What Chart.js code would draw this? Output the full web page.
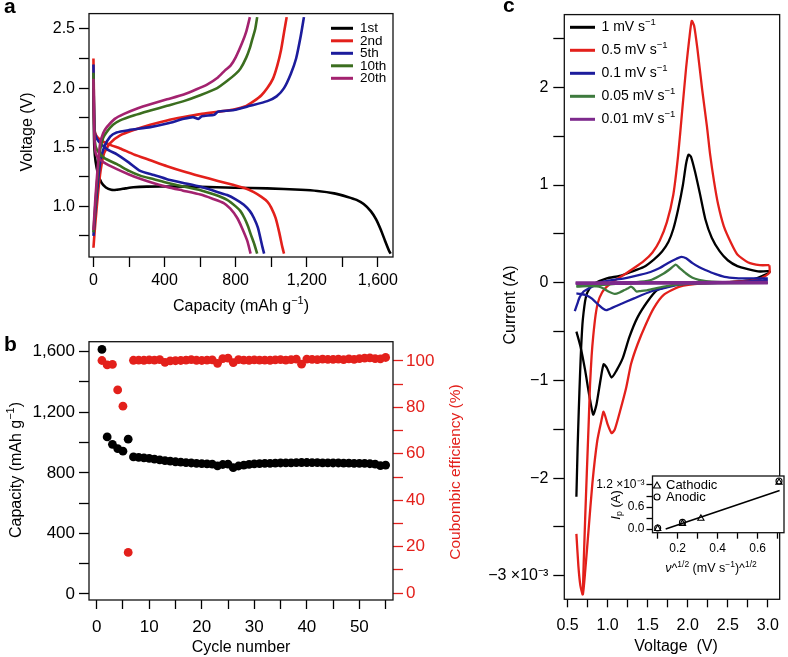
<!DOCTYPE html>
<html>
<head>
<meta charset="utf-8">
<script src="https://cdn.jsdelivr.net/npm/chart.js@4.4.1/dist/chart.umd.min.js"></script>
<style>
html, body { margin: 0; padding: 0; background: #fff; }
#wrap { position: relative; width: 788px; height: 657px; overflow: hidden; }
#wrap canvas { position: absolute; left: 0; top: 0; }
</style>
</head>
<body>
<div id="wrap">
  <canvas id="chartA" width="788" height="657"></canvas>
  <canvas id="chartB" width="788" height="657"></canvas>
  <canvas id="chartC" width="788" height="657"></canvas>
  <canvas id="chartInset" width="788" height="657"></canvas>
</div>
<script>
// ---- panel a : galvanostatic curves, [capacity mAh/g, voltage V]
const cycleNames = ['1st', '2nd', '5th', '10th', '20th'];
const dis1st = [[0,2.0],[2,1.7],[5,1.5],[12,1.38],[25,1.28],[45,1.2],[70,1.16],[100,1.14],[130,1.14],[180,1.152],[225,1.162],[300,1.167],[450,1.168],[600,1.165],[790,1.158],[977,1.152],[1166,1.14],[1260,1.13],[1354,1.11],[1430,1.08],[1480,1.055],[1520,1.02],[1560,0.96],[1590,0.89],[1617,0.8],[1640,0.71],[1664,0.62],[1672,0.6]];
const dis2nd = [[0,2.25],[3,1.9],[6,1.65],[15,1.6],[40,1.56],[94,1.52],[150,1.49],[226,1.44],[320,1.39],[414,1.34],[508,1.295],[602,1.255],[700,1.215],[790,1.18],[850,1.155],[902,1.12],[945,1.08],[978,1.04],[1000,0.99],[1025,0.9],[1045,0.78],[1062,0.66],[1072,0.6]];
const chg2nd = [[0,0.65],[10,0.85],[25,1.1],[40,1.3],[60,1.45],[94,1.535],[150,1.6],[226,1.645],[320,1.69],[414,1.727],[508,1.755],[602,1.78],[700,1.8],[790,1.82],[860,1.85],[902,1.89],[945,1.94],[978,2.0],[1010,2.08],[1034,2.19],[1055,2.32],[1072,2.47],[1087,2.6]];
const dis5th = [[0,2.2],[3,1.85],[8,1.62],[20,1.57],[38,1.535],[80,1.48],[132,1.44],[200,1.37],[263,1.3],[340,1.265],[414,1.23],[500,1.2],[602,1.165],[680,1.13],[752,1.096],[800,1.06],[846,1.014],[880,0.96],[902,0.904],[925,0.82],[950,0.66],[960,0.6]];
const chg5th = [[0,0.75],[10,0.95],[25,1.2],[38,1.37],[60,1.5],[94,1.59],[130,1.625],[200,1.645],[320,1.67],[414,1.7],[508,1.74],[560,1.755],[590,1.74],[610,1.762],[680,1.775],[700,1.8],[790,1.815],[880,1.85],[978,1.89],[1030,1.93],[1072,2.0],[1110,2.12],[1140,2.25],[1166,2.44],[1184,2.6]];
const dis10th = [[0,2.13],[3,1.8],[8,1.55],[19,1.48],[60,1.41],[132,1.357],[200,1.3],[263,1.26],[340,1.23],[414,1.2],[500,1.17],[602,1.137],[680,1.1],[752,1.055],[800,1.0],[827,0.96],[850,0.9],[870,0.83],[884,0.767],[905,0.68],[921,0.6]];
const chg10th = [[0,0.78],[10,1.0],[25,1.3],[38,1.48],[55,1.58],[75,1.63],[110,1.69],[150,1.727],[230,1.77],[320,1.81],[414,1.85],[508,1.89],[600,1.94],[696,2.0],[760,2.07],[800,2.12],[827,2.165],[860,2.26],[880,2.34],[893,2.41],[910,2.5],[921,2.6]];
const dis20th = [[0,2.08],[3,1.75],[8,1.5],[19,1.425],[60,1.37],[132,1.315],[200,1.27],[263,1.233],[340,1.195],[414,1.165],[500,1.135],[602,1.1],[670,1.065],[733,1.028],[770,0.98],[808,0.904],[835,0.82],[865,0.71],[884,0.6]];
const chg20th = [[0,0.8],[10,1.05],[25,1.35],[38,1.535],[55,1.62],[75,1.67],[120,1.74],[169,1.78],[250,1.83],[320,1.864],[414,1.905],[508,1.946],[580,1.99],[639,2.03],[700,2.09],[740,2.15],[771,2.19],[800,2.26],[837,2.385],[860,2.48],[880,2.6]];
const capTicks = [0,200,400,600,800,1000,1200,1400,1600];
const capLabels = ['0','','400','','800','','1,200','','1,600'];
const voltTicks = [0.75,1.0,1.25,1.5,1.75,2.0,2.25,2.5];
const voltLabels = ['','1.0','','1.5','','2.0','','2.5'];

// ---- panel b : cycling
const cycleNumber = [1,2,3,4,5,6,7,8,9,10,11,12,13,14,15,16,17,18,19,20,21,22,23,24,25,26,27,28,29,30,31,32,33,34,35,36,37,38,39,40,41,42,43,44,45,46,47,48,49,50,51,52,53,54,55];
const capacityB = [1615,1037,988,960,943,1022,905,902,899,895,890,886,881,877,873,870,867,865,863,861,859,857,846,855,858,834,845,851,856,859,861,862,863,864,865,866,866,867,868,868,867,867,866,866,865,865,864,864,863,863,862,860,858,847,851];
const coulombicEff = [100.2,98.3,98.5,87.5,80.5,17.5,100.3,100.4,100.3,100.5,100.4,100.6,99.4,100.0,100.1,100.2,100.4,100.6,100.3,100.2,100.4,100.5,99.0,101.0,101.2,99.3,100.6,100.4,100.3,100.5,100.4,100.4,100.3,100.5,100.6,100.4,100.6,100.8,98.6,100.8,100.7,100.6,100.8,100.7,100.7,100.8,100.6,100.9,100.7,101.0,101.2,101.3,101.0,100.9,101.5];
const cycTicks = [0,5,10,15,20,25,30,35,40,45,50,55];
const cycLabels = ['0','','10','','20','','30','','40','','50',''];
const capBTicks = [0,200,400,600,800,1000,1200,1400,1600];
const capBLabels = ['0','','400','','800','','1,200','','1,600'];
const effTicks = [0,10,20,30,40,50,60,70,80,90,100];
const effLabels = ['0','','20','','40','','60','','80','','100'];

// ---- panel c : cyclic voltammetry, [voltage V, current 1e-3 A]
const scanRates = ['1', '0.5', '0.1', '0.05', '0.01'];
const cv1Cathodic = [[3.03,0.12],[3.0,0.094],[2.79,0.03],[2.38,0.0],[1.98,-0.007],[1.82,-0.024],[1.62,-0.075],[1.5,-0.19],[1.37,-0.36],[1.27,-0.56],[1.19,-0.77],[1.11,-0.9],[1.05,-0.97],[0.99,-0.87],[0.95,-0.835],[0.91,-1.0],[0.86,-1.25],[0.82,-1.35],[0.77,-1.15],[0.72,-0.9],[0.66,-0.65],[0.61,-0.5]];
const cv1Anodic = [[0.61,-2.19],[0.625,-1.7],[0.64,-1.3],[0.655,-0.95],[0.67,-0.65],[0.69,-0.38],[0.73,-0.14],[0.78,-0.05],[0.83,-0.01],[0.99,0.044],[1.15,0.07],[1.29,0.11],[1.45,0.16],[1.58,0.24],[1.68,0.32],[1.76,0.42],[1.82,0.55],[1.88,0.75],[1.94,1.0],[1.98,1.22],[2.01,1.31],[2.04,1.29],[2.09,1.14],[2.15,0.92],[2.22,0.65],[2.3,0.46],[2.4,0.32],[2.5,0.23],[2.62,0.17],[2.75,0.14],[2.9,0.115],[3.03,0.12]];
const cv05Cathodic = [[3.02,0.18],[3.02,0.1],[2.9,0.04],[2.6,0.01],[2.18,-0.007],[1.9,-0.04],[1.7,-0.125],[1.576,-0.26],[1.475,-0.43],[1.374,-0.63],[1.293,-0.83],[1.233,-1.07],[1.16,-1.3],[1.09,-1.5],[1.05,-1.54],[1.0,-1.45],[0.95,-1.32],[0.92,-1.42],[0.87,-1.62],[0.81,-2.05],[0.76,-2.55],[0.72,-2.95],[0.69,-3.19],[0.66,-3.1],[0.635,-2.9],[0.61,-2.57]];
const cv05Anodic = [[0.69,-3.19],[0.7,-2.9],[0.72,-2.4],[0.74,-1.95],[0.765,-1.4],[0.78,-1.05],[0.8,-0.75],[0.82,-0.55],[0.85,-0.33],[0.88,-0.2],[0.93,-0.1],[0.99,-0.04],[1.1,0.03],[1.21,0.085],[1.33,0.15],[1.45,0.22],[1.56,0.31],[1.65,0.43],[1.74,0.62],[1.82,0.9],[1.88,1.3],[1.93,1.75],[1.98,2.2],[2.02,2.5],[2.05,2.68],[2.08,2.63],[2.12,2.4],[2.18,1.98],[2.24,1.6],[2.28,1.31],[2.33,1.03],[2.38,0.8],[2.45,0.58],[2.54,0.41],[2.62,0.29],[2.75,0.21],[2.9,0.18],[3.02,0.18]];
const cv01Cathodic = [[3.0,0.03],[2.6,0.005],[2.2,-0.005],[1.9,-0.02],[1.78,-0.04],[1.54,-0.09],[1.33,-0.16],[1.13,-0.23],[0.99,-0.28],[0.95,-0.27],[0.89,-0.23],[0.8,-0.16],[0.72,-0.125],[0.66,-0.115],[0.61,-0.11]];
const cv01Anodic = [[0.59,-0.29],[0.62,-0.22],[0.65,-0.15],[0.7,-0.09],[0.76,-0.06],[0.83,-0.03],[0.89,0.0],[1.0,0.02],[1.21,0.044],[1.4,0.08],[1.535,0.11],[1.65,0.15],[1.75,0.2],[1.86,0.246],[1.92,0.265],[1.98,0.25],[2.06,0.2],[2.14,0.16],[2.22,0.13],[2.34,0.09],[2.46,0.06],[2.6,0.048],[2.8,0.044],[3.0,0.045]];
const cv005Cathodic = [[3.0,-0.002],[2.2,-0.007],[1.94,-0.015],[1.7,-0.04],[1.5,-0.075],[1.41,-0.085],[1.36,-0.09],[1.32,-0.055],[1.29,-0.04],[1.25,-0.06],[1.21,-0.075],[1.15,-0.1],[1.09,-0.115],[1.01,-0.09],[0.95,-0.06],[0.89,-0.04],[0.75,-0.035],[0.61,-0.04]];
const cv005Anodic = [[0.61,-0.035],[0.8,-0.03],[1.0,-0.02],[1.2,-0.005],[1.41,0.01],[1.55,0.03],[1.7,0.094],[1.78,0.14],[1.85,0.185],[1.9,0.15],[1.98,0.094],[2.06,0.05],[2.14,0.03],[2.3,0.01],[2.6,0.0],[3.0,0.0]];
const cv001Cathodic = [[3.0,-0.004],[2.0,-0.006],[1.2,-0.008],[0.6,-0.01]];
const cv001Anodic = [[0.6,0.0],[1.2,0.002],[2.0,0.004],[3.0,0.005]];
const cvVoltTicks = [0.5,0.75,1.0,1.25,1.5,1.75,2.0,2.25,2.5,2.75,3.0];
const cvVoltLabels = ['0.5','','1.0','','1.5','','2.0','','2.5','','3.0'];
const currentTicks = [-3,-2.5,-2,-1.5,-1,-0.5,0,0.5,1,1.5,2,2.5];
const currentLabels = ['\u22123 \u00d710\u207b\u00b3','','\u22122','','\u22121','','0','','1','','2',''];

// ---- inset : peak current vs sqrt(scan rate)
const sqrtRateCathodic = [0.1, 0.224, 0.316, 0.707];
const ipCathodic = [0.01, 0.15, 0.29, 1.27];
const sqrtRateAnodic = [0.1, 0.224, 0.707];
const ipAnodic = [0.03, 0.18, 1.31];
const fitX = [0.14, 0.71];
const fitY = [0.0, 1.05];
const insetXTicks = [0.1,0.2,0.3,0.4,0.5,0.6,0.7];
const insetXLabels = ['','0.2','','0.4','','0.6',''];
const insetYTicks = [0.0,0.3,0.6,0.9,1.2];
const insetYLabels = ['0.0','','0.6','','1.2 \u00d710\u207b\u00b3'];

// ---- styles
const FONT = '"Liberation Sans", Arial, Helvetica, sans-serif';
const cycleColors = ['#000000', '#e3201b', '#1c1c9c', '#3b6e1f', '#a3226f'];
const cvColors = ['#000000', '#e3201b', '#1c1c9c', '#3e7a3e', '#7d2a8c'];
const W = 788, H = 657;

Chart.defaults.font.family = FONT;
Chart.defaults.color = '#000';

const pts = arr => arr.map(([x, y]) => ({ x, y }));

function axis(o) {
    return {
        type: 'linear',
        position: o.position,
        min: o.min, max: o.max,
        afterBuildTicks: s => { s.ticks = o.values.map(v => ({ value: v })); },
        afterFit: s => { if (o.position === 'bottom') s.height = o.size; else s.width = o.size; },
        ticks: {
            autoSkip: false, maxRotation: 0, minRotation: 0,
            padding: o.pad !== undefined ? o.pad : 3,
            color: o.color || '#000',
            font: { size: o.font, family: FONT },
            callback: (v, i) => o.labels[i]
        },
        grid: { display: true, drawOnChartArea: false, drawTicks: true, tickLength: o.tick || 9, tickWidth: 1.3, tickColor: o.color || '#000', color: o.color || '#000' },
        border: { display: false },
        title: { display: false }
    };
}

// rich text: strings, or {t, sup, sub, italic}
function drawRich(ctx, parts, x, y, o) {
    const size = o.size;
    ctx.save();
    ctx.translate(x, y);
    if (o.rotate) ctx.rotate(o.rotate);
    ctx.fillStyle = o.color || '#000';
    ctx.textBaseline = 'middle';
    ctx.textAlign = 'left';
    let w = 0;
    const segs = parts.map(p => {
        const s = typeof p === 'string' ? { t: p } : p;
        const fs = (s.sup || s.sub) ? size * 0.68 : size;
        const f = `${s.italic ? 'italic ' : ''}${o.bold ? 'bold ' : ''}${fs}px ${FONT}`;
        ctx.font = f;
        const sw = ctx.measureText(s.t).width;
        w += sw;
        return { ...s, f, sw };
    });
    let cx = o.align === 'left' ? 0 : -w / 2;
    segs.forEach(s => {
        ctx.font = s.f;
        const dy = s.sup ? -size * 0.36 : (s.sub ? size * 0.3 : 0);
        ctx.fillText(s.t, cx, dy);
        cx += s.sw;
    });
    ctx.restore();
}

function frame(ctx, a) {
    ctx.save();
    ctx.strokeStyle = '#111';
    ctx.lineWidth = 1.3;
    ctx.strokeRect(a.left, a.top, a.right - a.left, a.bottom - a.top);
    ctx.restore();
}

function hline(ctx, x1, x2, y, color, w) {
    ctx.save();
    ctx.strokeStyle = color; ctx.lineWidth = w;
    ctx.beginPath(); ctx.moveTo(x1, y); ctx.lineTo(x2, y); ctx.stroke();
    ctx.restore();
}

function baseOptions(area, scales) {
    return {
        responsive: false, animation: false, devicePixelRatio: 1, events: [],
        layout: {
            autoPadding: false,
            padding: { left: area.l - area.yw, top: area.t, right: W - area.r - (area.y1w || 0), bottom: H - area.b - area.xh }
        },
        plugins: { legend: { display: false }, tooltip: { enabled: false } },
        scales
    };
}

// ================= panel a
const aSeries = [
    [dis1st],
    [dis2nd, chg2nd],
    [dis5th, chg5th],
    [dis10th, chg10th],
    [dis20th, chg20th]
];
const aDatasets = [];
aSeries.forEach((curves, i) => {
    curves.forEach(c => aDatasets.push({
        data: pts(c), showLine: true, borderColor: cycleColors[i], borderWidth: 2.6,
        pointRadius: 0, tension: 0.2, order: 10 - i
    }));
});

const decorA = {
    id: 'decorA',
    afterDraw(chart) {
        const ctx = chart.ctx;
        frame(ctx, chart.chartArea);
        drawRich(ctx, ['a'], 4, 7, { size: 21, bold: true, align: 'left' });
        drawRich(ctx, ['Voltage (V)'], 28, 132, { size: 16, rotate: -Math.PI / 2 });
        drawRich(ctx, ['Capacity (mAh g', { t: '\u22121', sup: true }, ')'], 241, 307, { size: 16 });
        cycleNames.forEach((name, i) => {
            const y = 28.3 + i * 12.5;
            hline(ctx, 331, 353, y, cycleColors[i], 3);
            drawRich(ctx, [name], 360, y, { size: 13.5, align: 'left' });
        });
    }
};

new Chart(document.getElementById('chartA'), {
    type: 'scatter',
    data: { datasets: aDatasets },
    options: baseOptions({ l: 89, t: 7, r: 393, b: 257, yw: 89, xh: 40 }, {
        x: axis({ position: 'bottom', min: -25, max: 1685, values: capTicks, labels: capLabels, size: 40, font: 16, tick: 10, pad: 4 }),
        y: axis({ position: 'left', min: 0.572, max: 2.63, values: voltTicks, labels: voltLabels, size: 89, font: 16, tick: 10, pad: 4 })
    }),
    plugins: [decorA]
});

// ================= panel b
const decorB = {
    id: 'decorB',
    afterDraw(chart) {
        const ctx = chart.ctx;
        frame(ctx, chart.chartArea);
        drawRich(ctx, ['b'], 4, 345, { size: 21, bold: true, align: 'left' });
        drawRich(ctx, ['Capacity (mAh g', { t: '\u22121', sup: true }, ')'], 17, 470, { size: 16, rotate: -Math.PI / 2 });
        drawRich(ctx, ['Coubombic efficiency (%)'], 456, 472, { size: 15.5, rotate: -Math.PI / 2, color: '#e3201b' });
        drawRich(ctx, ['Cycle number'], 241, 648, { size: 16 });
    }
};

new Chart(document.getElementById('chartB'), {
    type: 'scatter',
    data: {
        datasets: [
            { data: cycleNumber.map((c, i) => ({ x: c, y: capacityB[i] })), yAxisID: 'y', pointRadius: 4.4, pointBackgroundColor: '#000', pointBorderWidth: 0 },
            { data: cycleNumber.map((c, i) => ({ x: c, y: coulombicEff[i] })), yAxisID: 'y1', pointRadius: 4.4, pointBackgroundColor: '#e3201b', pointBorderWidth: 0 }
        ]
    },
    options: baseOptions({ l: 89, t: 341.7, r: 393, b: 600, yw: 89, y1w: 60, xh: 40 }, {
        x: axis({ position: 'bottom', min: -1.46, max: 56.4, values: cycTicks, labels: cycLabels, size: 40, font: 17, tick: 9, pad: 8 }),
        y: axis({ position: 'left', min: -40, max: 1666, values: capBTicks, labels: capBLabels, size: 89, font: 17, tick: 10, pad: 4 }),
        y1: axis({ position: 'right', min: -3, max: 108.3, values: effTicks, labels: effLabels, size: 60, font: 17, tick: 10, pad: 3, color: '#e3201b' })
    }),
    plugins: [decorB]
});

// ================= panel c
const cvSeries = [
    [cv1Cathodic, cv1Anodic],
    [cv05Cathodic, cv05Anodic],
    [cv01Cathodic, cv01Anodic],
    [cv005Cathodic, cv005Anodic],
    [cv001Cathodic, cv001Anodic]
];
const cDatasets = [];
cvSeries.forEach((curves, i) => {
    curves.forEach(c => cDatasets.push({
        data: pts(c), showLine: true, borderColor: cvColors[i], borderWidth: i === 4 ? 2.8 : 2.3,
        pointRadius: 0, tension: 0.2, order: 10 - i
    }));
});

const decorC = {
    id: 'decorC',
    afterDraw(chart) {
        const ctx = chart.ctx;
        frame(ctx, chart.chartArea);
        drawRich(ctx, ['c'], 503, 6, { size: 21, bold: true, align: 'left' });
        drawRich(ctx, ['Current (A)'], 511, 305, { size: 16, rotate: -Math.PI / 2 });
        drawRich(ctx, ['Voltage  (V)'], 676, 647, { size: 16 });
        scanRates.forEach((r, i) => {
            const y = 27.3 + i * 23;
            hline(ctx, 570, 595, y, cvColors[i], 3);
            drawRich(ctx, [r + ' mV s', { t: '\u22121', sup: true }], 601.5, y, { size: 14, align: 'left' });
        });
    }
};

new Chart(document.getElementById('chartC'), {
    type: 'scatter',
    data: { datasets: cDatasets },
    options: baseOptions({ l: 564.3, t: 8.3, r: 786.7, b: 599.3, yw: 80, xh: 40 }, {
        x: axis({ position: 'bottom', min: 0.459, max: 3.148, values: cvVoltTicks, labels: cvVoltLabels, size: 40, font: 16, tick: 8, pad: 9 }),
        y: axis({ position: 'left', min: -3.24, max: 2.744, values: currentTicks, labels: currentLabels, size: 80, font: 16, tick: 11, pad: 5 })
    }),
    plugins: [decorC]
});

// ================= inset
const decorInset = {
    id: 'decorInset',
    beforeDatasetsDraw(chart) {
        const a = chart.chartArea, ctx = chart.ctx;
        ctx.save();
        ctx.fillStyle = '#fff';
        ctx.fillRect(a.left, a.top, a.right - a.left, a.bottom - a.top);
        ctx.restore();
    },
    afterDraw(chart) {
        const ctx = chart.ctx;
        frame(ctx, chart.chartArea);
        // legend
        ctx.save();
        ctx.strokeStyle = '#000'; ctx.lineWidth = 1.1;
        ctx.beginPath(); ctx.moveTo(657, 482); ctx.lineTo(660.5, 488); ctx.lineTo(653.5, 488); ctx.closePath(); ctx.stroke();
        ctx.beginPath(); ctx.arc(657, 497, 3, 0, Math.PI * 2); ctx.stroke();
        ctx.restore();
        drawRich(ctx, ['Cathodic'], 666, 485, { size: 13, align: 'left' });
        drawRich(ctx, ['Anodic'], 666, 497, { size: 13, align: 'left' });
        drawRich(ctx, [{ t: 'I', italic: true }, { t: 'p', sub: true }, ' (A)'], 616, 505, { size: 13, rotate: -Math.PI / 2 });
        drawRich(ctx, [{ t: '\u03bd', italic: true }, '^', { t: '1/2', sup: true }, ' (mV s', { t: '\u22121', sup: true }, ')^', { t: '1/2', sup: true }], 711, 569, { size: 12.5 });
    }
};

new Chart(document.getElementById('chartInset'), {
    type: 'scatter',
    data: {
        datasets: [
            { data: fitX.map((x, i) => ({ x, y: fitY[i] })), showLine: true, borderColor: '#000', borderWidth: 1.6, pointRadius: 0 },
            { data: sqrtRateCathodic.map((x, i) => ({ x, y: ipCathodic[i] })), pointStyle: 'triangle', pointRadius: 3.6, pointBorderColor: '#000', pointBackgroundColor: 'rgba(255,255,255,0)', pointBorderWidth: 1.1 },
            { data: sqrtRateAnodic.map((x, i) => ({ x, y: ipAnodic[i] })), pointStyle: 'circle', pointRadius: 3, pointBorderColor: '#000', pointBackgroundColor: 'rgba(255,255,255,0)', pointBorderWidth: 1.1 }
        ]
    },
    options: baseOptions({ l: 652.5, t: 476, r: 784, b: 532.7, yw: 60, xh: 24 }, {
        x: axis({ position: 'bottom', min: 0.074, max: 0.732, values: insetXTicks, labels: insetXLabels, size: 24, font: 12, tick: 6, pad: 3 }),
        y: axis({ position: 'left', min: -0.1, max: 1.445, values: insetYTicks, labels: insetYLabels, size: 60, font: 12, tick: 6, pad: 2 })
    }),
    plugins: [decorInset]
});
</script>
</body>
</html>
